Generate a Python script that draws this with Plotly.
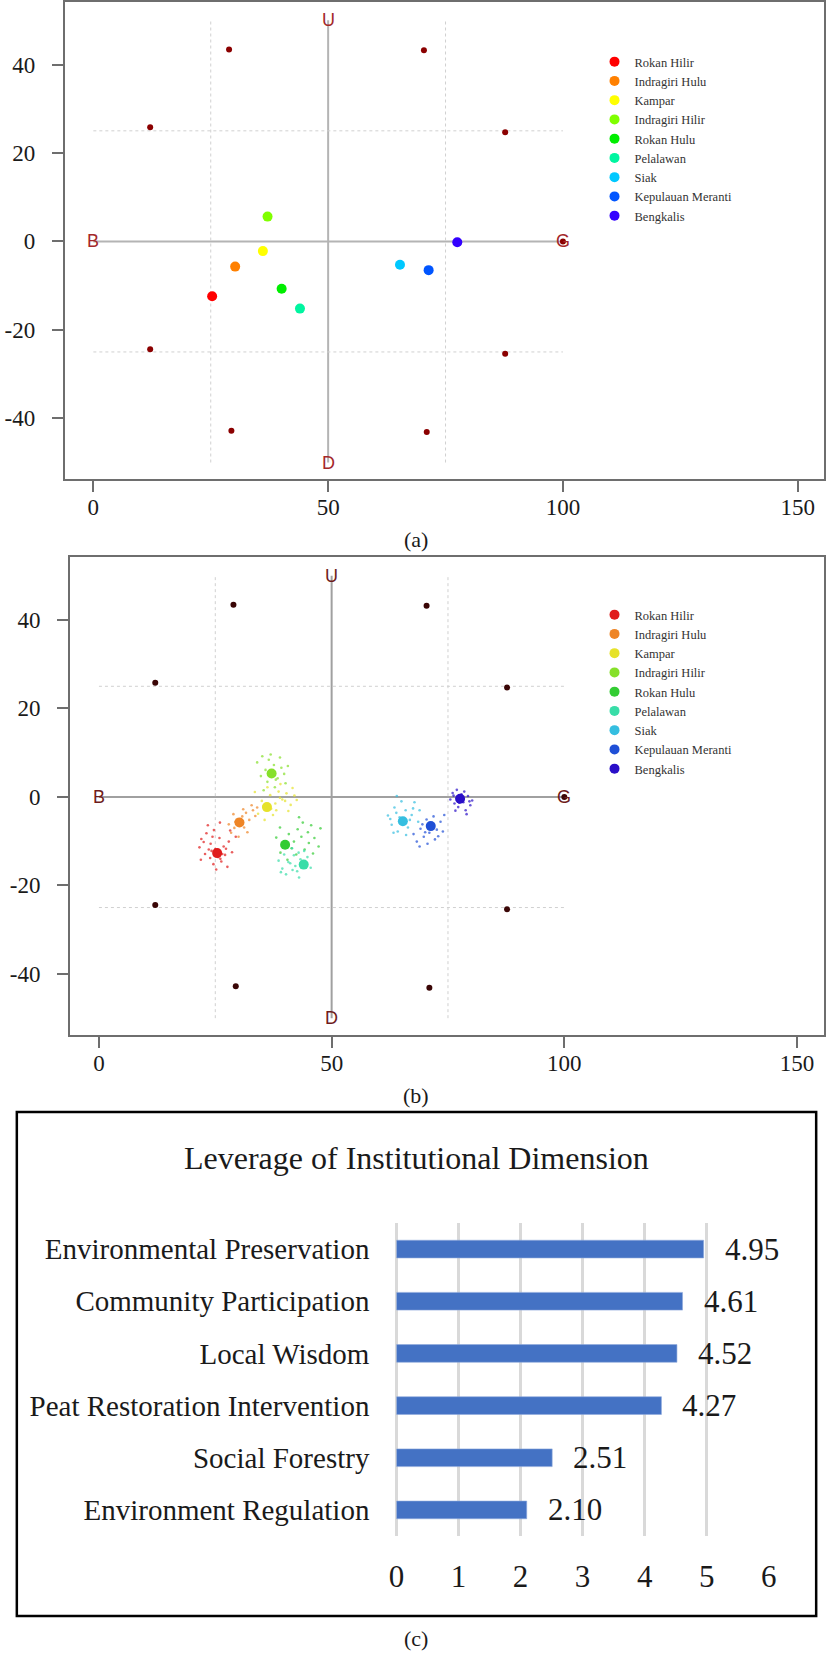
import plotly.graph_objects as go

# ---------------- data ----------------
districts = ["Rokan Hilir", "Indragiri Hulu", "Kampar", "Indragiri Hilir", "Rokan Hulu",
             "Pelalawan", "Siak", "Kepulauan Meranti", "Bengkalis"]

# (a) ordination scores
a_x = [25.3, 30.2, 36.1, 37.1, 40.1, 44.0, 65.3, 71.4, 77.5]
a_y = [-12.4, -5.7, -2.2, 5.6, -10.7, -15.2, -5.3, -6.5, -0.2]

# (b) Monte Carlo: scores + scatter clouds
b_x = [25.4, 30.2, 36.1, 37.1, 40.0, 44.0, 65.3, 71.3, 77.6]
b_y = [-12.7, -5.8, -2.3, 5.3, -10.8, -15.3, -5.5, -6.6, -0.4]

cloud_x = [
    [22.0, 23.1, 24.0, 21.6, 22.8, 23.9, 24.6, 25.2, 26.3, 27.1, 26.8, 25.9, 24.7, 27.9, 28.6, 29.4, 26.0, 23.4, 21.9, 27.6, 25.0, 24.2, 26.5, 28.2, 22.5, 23.6, 25.6, 27.3, 24.4, 26.1],
    [28.4, 29.1, 30.8, 31.6, 29.6, 31.2, 32.3, 33.1, 27.9, 30.0, 32.8, 34.0, 28.9, 31.9, 30.4, 29.3, 33.6, 31.0],
    [34.2, 35.0, 36.8, 37.9, 38.6, 39.4, 40.3, 41.2, 42.0, 39.0, 37.4, 35.6, 38.1, 40.7, 36.2, 33.5, 41.6, 37.0, 38.9, 40.0, 35.3, 42.5],
    [34.0, 35.1, 35.8, 36.5, 37.6, 38.4, 39.2, 40.1, 36.2, 34.8, 38.9, 37.8, 35.4, 39.8, 36.9, 40.6, 37.2, 38.0],
    [38.1, 39.0, 40.8, 41.9, 42.7, 43.8, 44.9, 45.6, 46.3, 47.2, 44.2, 42.4, 40.5, 38.9, 43.0, 46.0, 41.4, 45.1, 47.6, 43.5],
    [38.6, 39.4, 40.2, 41.1, 41.9, 42.6, 43.3, 44.8, 45.5, 43.0, 41.5, 39.8, 42.2, 44.1, 40.7, 42.9, 39.1, 41.6],
    [62.1, 62.9, 63.5, 64.2, 64.6, 65.9, 66.4, 67.2, 67.8, 68.6, 66.0, 63.3, 65.0, 68.9, 64.0, 66.8, 62.6, 65.6, 67.5, 63.9],
    [67.6, 68.3, 69.1, 69.8, 70.4, 71.0, 71.9, 72.6, 73.4, 74.2, 70.6, 68.9, 72.2, 73.9, 69.5, 71.5, 72.9, 70.1],
    [75.5, 76.0, 76.4, 76.9, 77.2, 77.9, 78.3, 78.8, 79.3, 79.8, 80.2, 77.0, 78.5, 76.6, 79.0, 77.6, 78.1, 76.2, 79.6, 77.4],
]
cloud_y = [
    [-9.5, -8.2, -10.6, -11.4, -12.9, -13.8, -15.2, -16.4, -14.6, -13.1, -11.2, -9.3, -7.5, -10.1, -12.5, -9.0, -5.8, -6.4, -14.2, -15.8, -11.8, -12.2, -12.9, -7.6, -10.2, -11.9, -13.6, -11.7, -9.0, -14.0],
    [-8.1, -7.0, -4.4, -3.6, -5.1, -6.9, -5.2, -3.0, -6.2, -9.0, -1.9, -2.4, -3.9, -8.0, -6.4, -5.6, -4.3, -2.8],
    [-3.8, -0.9, 0.4, -1.5, 1.2, -0.6, 0.8, -1.8, 0.3, 2.9, -4.1, -5.2, -3.0, -3.2, 2.2, 1.1, 2.0, -2.7, -0.2, -0.9, -2.2, -0.7],
    [7.8, 9.2, 6.1, 8.4, 7.2, 4.2, 6.6, 3.1, 3.4, 4.7, 8.9, 2.2, 1.5, 5.2, 9.6, 7.0, 5.9, 3.9],
    [-9.2, -12.6, -8.4, -10.1, -7.3, -5.8, -8.0, -6.4, -9.3, -11.2, -11.9, -13.0, -14.2, -6.9, -4.6, -12.8, -11.6, -10.4, -7.1, -9.0],
    [-14.4, -16.2, -17.5, -15.0, -13.2, -16.8, -14.1, -13.6, -16.0, -18.2, -11.6, -13.0, -15.6, -12.2, -14.7, -12.6, -17.0, -16.5],
    [-4.2, -6.3, -2.4, -7.8, -4.6, -3.0, -6.9, -4.1, -1.2, -5.6, -8.6, -8.1, -1.0, -3.0, 0.2, -5.2, -5.0, -6.0, -2.6, -3.6],
    [-8.4, -10.1, -7.2, -9.0, -5.1, -8.1, -4.4, -7.4, -5.6, -4.1, -10.6, -11.2, -9.6, -7.8, -6.2, -6.0, -8.9, -8.0],
    [-0.6, 0.9, -1.5, 1.6, -2.3, 0.6, -1.2, -3.0, 0.2, -1.9, -0.8, -0.2, 1.2, -3.1, -3.9, 0.1, -0.4, 0.3, -1.0, -1.3],
]

# reference (anchor) points of the ordination
anchor_x = [12.1, 28.9, 12.1, 29.4, 70.4, 87.7, 87.7, 71.0, 100.0]
anchor_y = [25.8, 43.4, -24.4, -42.8, 43.2, 24.7, -25.4, -43.1, 0.0]

# ordination frame
BAD_X, GOOD_X, MID_X = 0, 100, 50
UP_Y, DOWN_Y = 50, -50
QUART_X = [25, 75]
QUART_Y = [25, -25]
frame_labels = [("B", BAD_X, 0), ("G", GOOD_X, 0), ("U", MID_X, UP_Y), ("D", MID_X, DOWN_Y)]

x_ticks = [0, 50, 100, 150]
y_ticks = [-40, -20, 0, 20, 40]
y_tick_text = ["-40", "-20", "0", "20", "40"]

# (c) leverage
leverage_factors = ["Environmental Preservation", "Community Participation", "Local Wisdom",
                    "Peat Restoration Intervention", "Social Forestry", "Environment Regulation"]
leverage_values = [4.95, 4.61, 4.52, 4.27, 2.51, 2.10]
lev_ticks = [0, 1, 2, 3, 4, 5, 6]

# ---------------- styles ----------------
W, H = 833, 1654
SERIF = "Liberation Serif, Times New Roman, serif"
SANS = "Liberation Sans, Arial, sans-serif"
a_colors = ["#FF0000", "#FF8000", "#FFFF00", "#80FF00", "#00EE00", "#00F5A0", "#00C8FF", "#0055FF", "#3300FF"]
b_colors = ["#E01B1B", "#EE8526", "#E6E22A", "#86E02A", "#33CC33", "#38DDA8", "#35BEE0", "#1F4FD6", "#2A0FC8"]


def px(v):
    return v / W


def py(v):
    return 1 - v / H


fig = go.Figure()

# ---- panel (a) ----
fig.add_trace(go.Scatter(x=anchor_x, y=anchor_y, mode="markers", xaxis="x", yaxis="y",
                         marker=dict(size=6, color="#8B0000"), showlegend=False, hoverinfo="skip"))
for i, name in enumerate(districts):
    fig.add_trace(go.Scatter(x=[a_x[i]], y=[a_y[i]], mode="markers", name=name, xaxis="x", yaxis="y",
                             legend="legend", marker=dict(size=10, color=a_colors[i])))

# ---- panel (b) ----
for i, name in enumerate(districts):
    fig.add_trace(go.Scatter(x=cloud_x[i], y=cloud_y[i], mode="markers", xaxis="x2", yaxis="y2",
                             marker=dict(size=2.6, color=b_colors[i], opacity=0.7),
                             showlegend=False, hoverinfo="skip"))
fig.add_trace(go.Scatter(x=anchor_x, y=anchor_y, mode="markers", xaxis="x2", yaxis="y2",
                         marker=dict(size=6, color="#3A0606"), showlegend=False, hoverinfo="skip"))
for i, name in enumerate(districts):
    fig.add_trace(go.Scatter(x=[b_x[i]], y=[b_y[i]], mode="markers", name=name, xaxis="x2", yaxis="y2",
                             legend="legend2", marker=dict(size=10, color=b_colors[i])))

# ---- panel (c) ----
fig.add_trace(go.Bar(x=leverage_values, y=leverage_factors, orientation="h", xaxis="x3", yaxis="y3",
                     marker=dict(color="#4472C4", line=dict(color="#8FAADC", width=0.6)),
                     showlegend=False))

# frame shapes for ordination panels
shapes = []
for xr, yr, solid in (("x", "y", "#B4B4B4"), ("x2", "y2", "#A0A0A0")):
    shapes.append(dict(type="line", xref=xr, yref=yr, x0=BAD_X, x1=GOOD_X, y0=0, y1=0,
                       line=dict(color=solid, width=2), layer="below"))
    shapes.append(dict(type="line", xref=xr, yref=yr, x0=MID_X, x1=MID_X, y0=DOWN_Y, y1=UP_Y,
                       line=dict(color=solid, width=2), layer="below"))
    for qx in QUART_X:
        shapes.append(dict(type="line", xref=xr, yref=yr, x0=qx, x1=qx, y0=DOWN_Y, y1=UP_Y,
                           line=dict(color="#D0D0D0", width=1, dash="dot"), layer="below"))
    for qy in QUART_Y:
        shapes.append(dict(type="line", xref=xr, yref=yr, x0=BAD_X, x1=GOOD_X, y0=qy, y1=qy,
                           line=dict(color="#D0D0D0", width=1, dash="dot"), layer="below"))
# box around panel (c)
shapes.append(dict(type="rect", xref="paper", yref="paper", x0=px(9), x1=px(824), y0=py(1616), y1=py(1112),
                   line=dict(color="black", width=2.5)))

annotations = []
for xr, yr, col in (("x", "y", "#A3282A"), ("x2", "y2", "#6E1B1B")):
    for txt, lx, ly in frame_labels:
        annotations.append(dict(x=lx, y=ly, xref=xr, yref=yr, text=txt, showarrow=False,
                                xanchor="center", yanchor="middle",
                                font=dict(family=SANS, size=18, color=col)))
for v, f in zip(leverage_values, leverage_factors):
    annotations.append(dict(x=v, y=f, xref="x3", yref="y3", text=f"{v:.2f}", showarrow=False,
                            xanchor="left", yanchor="middle", xshift=19,
                            font=dict(family=SERIF, size=31, color="#1a1a1a")))
annotations.append(dict(x=px(416), y=py(1158), xref="paper", yref="paper", showarrow=False,
                        xanchor="center", yanchor="middle",
                        text="Leverage of Institutional Dimension",
                        font=dict(family=SERIF, size=32, color="#1a1a1a")))
for cap, cy in (("(a)", 539), ("(b)", 1095), ("(c)", 1638)):
    annotations.append(dict(x=px(416), y=py(cy), xref="paper", yref="paper", showarrow=False, text=cap,
                            xanchor="center", yanchor="middle",
                            font=dict(family=SERIF, size=22, color="#1a1a1a")))

axis_common = dict(showline=True, mirror=True, linecolor="#6E6E6E", linewidth=2, ticks="outside",
                   ticklen=11, tickwidth=2, tickcolor="#6E6E6E", showgrid=False, zeroline=False,
                   tickfont=dict(family=SERIF, size=23, color="#1a1a1a"))

legend_common = dict(xanchor="left", yanchor="top", bgcolor="rgba(0,0,0,0)", itemsizing="trace",
                     font=dict(family=SERIF, size=12.5, color="#333333"), tracegroupgap=0,
                     itemclick=False, itemdoubleclick=False)

fig.update_layout(
    width=W, height=H, margin=dict(l=0, r=0, t=0, b=0),
    paper_bgcolor="white", plot_bgcolor="white",
    shapes=shapes, annotations=annotations, bargap=0.66,
    xaxis=dict(domain=[px(58), px(832)], range=[-6.06, 155.6], tickvals=x_ticks, anchor="y",
               ticklabelstandoff=-5, **axis_common),
    yaxis=dict(domain=[py(479.3), py(1.7)], range=[-53.8, 54.2], tickvals=y_ticks, ticktext=y_tick_text,
               anchor="x", ticklabelstandoff=12, **axis_common),
    xaxis2=dict(domain=[px(63.3), px(832)], range=[-6.2, 155.8], tickvals=x_ticks, anchor="y2",
                ticklabelstandoff=-5, **axis_common),
    yaxis2=dict(domain=[py(1035.2), py(556.5)], range=[-53.85, 54.33], tickvals=y_ticks, ticktext=y_tick_text,
                anchor="x2", ticklabelstandoff=12, **axis_common),
    xaxis3=dict(domain=[px(396), px(775.7)], range=[0, 6], tickvals=lev_ticks, anchor="y3",
                showgrid=True, gridcolor="#D9D9D9", gridwidth=2.5, zeroline=True, zerolinecolor="#D9D9D9",
                zerolinewidth=2.5, showline=False, ticks="", ticklabelstandoff=19,
                tickfont=dict(family=SERIF, size=31, color="#1a1a1a")),
    yaxis3=dict(domain=[py(1536), py(1223)], type="category", categoryorder="array",
                categoryarray=leverage_factors, range=[5.5, -0.5], anchor="x3", showgrid=False,
                zeroline=False, showline=False, ticks="", ticklabelstandoff=26,
                tickfont=dict(family=SERIF, size=29, color="#1a1a1a")),
    legend=dict(x=px(598), y=py(47), **legend_common),
    legend2=dict(x=px(598), y=py(600), **legend_common),
)

fig.write_html("out.html")
